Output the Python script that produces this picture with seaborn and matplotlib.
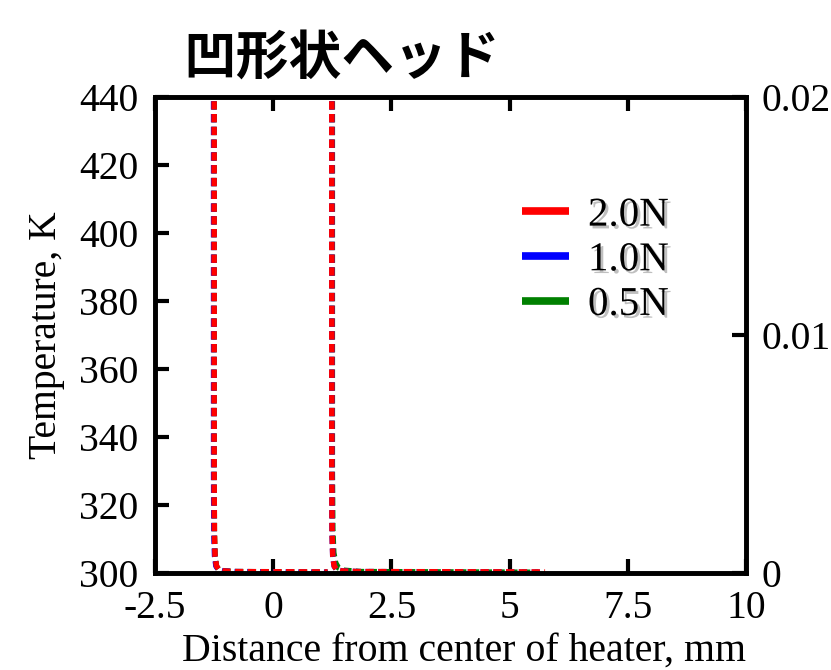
import numpy as np
import pandas as pd
import matplotlib
matplotlib.use("Agg")
import matplotlib.pyplot as plt
import matplotlib.patheffects as pe
from matplotlib.lines import Line2D
import seaborn as sns

# ---- data ----
loads = ["2.0N", "1.0N", "0.5N"]
colors = ["#ff0000", "#0000ff", "#008000"]

x_left_20 = [-1.25, -1.25, -1.245, -1.23, -1.20, -1.15, -1.05, -0.80, 1.15]
T_left_20 = [480, 330, 312, 305, 302, 301, 300.6, 300.4, 300.3]
x_right_20 = [1.24, 1.24, 1.245, 1.26, 1.29, 1.34, 1.45, 1.80, 5.75]
T_right_20 = [480, 330, 312, 305, 302, 301, 300.6, 300.4, 300.3]

x_left_10 = [-1.26, -1.26, -1.255, -1.24, -1.21, -1.16, -1.06, -0.80, 1.15]
T_left_10 = [480, 330, 312, 305, 302, 301, 300.6, 300.4, 300.2]
x_right_10 = [1.24, 1.24, 1.245, 1.26, 1.29, 1.34, 1.45, 1.80, 5.70]
T_right_10 = [480, 330, 312, 305, 302, 301, 300.6, 300.4, 300.2]

x_left_05 = [-1.25, -1.25, -1.245, -1.23, -1.20, -1.15, -1.05, -0.80, 1.15]
T_left_05 = [480, 330, 312, 305, 302, 301, 300.6, 300.4, 300.2]
x_right_05 = [1.25, 1.25, 1.26, 1.28, 1.32, 1.38, 1.50, 1.85, 5.60]
T_right_05 = [480, 330, 313, 306, 303, 301.5, 300.8, 300.4, 300.2]

series = {
    "2.0N": [(x_left_20, T_left_20), (x_right_20, T_right_20)],
    "1.0N": [(x_left_10, T_left_10), (x_right_10, T_right_10)],
    "0.5N": [(x_left_05, T_left_05), (x_right_05, T_right_05)],
}

rows = []
for load, segs in series.items():
    for si, (xs, ts) in enumerate(segs):
        for xv, tv in zip(xs, ts):
            rows.append({"load": load, "segment": si, "x": xv, "T": tv})
df = pd.DataFrame(rows)

# ---- style ----
sns.set_theme(style="ticks")
plt.rcParams["font.family"] = ["Liberation Serif", "DejaVu Serif"]
plt.rcParams["font.size"] = 28
plt.rcParams["text.color"] = "black"
plt.rcParams["axes.labelcolor"] = "black"
plt.rcParams["xtick.color"] = "black"
plt.rcParams["ytick.color"] = "black"

fig = plt.figure(figsize=(8.31, 6.70), dpi=100)
ax = fig.add_axes([155 / 831, 1 - 573 / 670, (746 - 155) / 831, (573 - 97) / 670])

for load, col in zip(reversed(loads), reversed(colors)):
    sub = df[df["load"] == load]
    sns.lineplot(data=sub, x="x", y="T", units="segment", estimator=None,
                 sort=False, color=col, lw=4.0, ls=(0, (1.5, 0.8)), ax=ax,
                 legend=False)

ax.set_xlim(-2.5, 10)
ax.set_ylim(300, 440)
ax.set_xticks([-2.5, 0, 2.5, 5, 7.5, 10])
ax.set_xticklabels(["-2.5", "0", "2.5", "5", "7.5", "10"])
ax.set_yticks(np.arange(300, 441, 20))
ax.tick_params(axis="both", direction="in", length=10, width=3, labelsize=28.5,
               pad=12, top=True, right=False, colors="black")
ax.set_xlabel("Distance from center of heater, mm", fontsize=28.6, color="black")
ax.xaxis.set_label_coords(0.523, -0.125)
ax.set_ylabel("Temperature, K", fontsize=28.5, labelpad=10, color="black")
for sp in ax.spines.values():
    sp.set_linewidth(3.3)
    sp.set_color("black")

ax2 = ax.twinx()
ax2.set_ylim(0, 0.02)
ax2.set_yticks([0, 0.01, 0.02])
ax2.set_yticklabels(["0", "0.01", "0.02"])
ax2.tick_params(axis="y", direction="in", length=10, width=3, labelsize=28.5, pad=11,
                colors="black")
for sp in ax2.spines.values():
    sp.set_linewidth(3.3)
    sp.set_color("black")

handles = [Line2D([0], [0], color=c, lw=5.5, solid_capstyle="butt") for c in colors]
leg = ax.legend(handles, loads, loc="upper left", bbox_to_anchor=(0.621, 0.79),
                frameon=False, fontsize=29.5, handlelength=1.15, handletextpad=0.46,
                labelspacing=0.17, borderaxespad=0, borderpad=0)
for t in leg.get_texts():
    t.set_color("black")
    t.set_path_effects([pe.withSimplePatchShadow(offset=(2, -2), shadow_rgbFace="gray", alpha=0.5)])

fig.text(183 / 831, 1 - 58 / 670, "凹形状ヘッド", family=["Noto Sans CJK JP", "DejaVu Sans"],
         fontweight="bold", fontsize=38, ha="left", va="center", color="black")

fig.savefig("out.png", dpi=100)
